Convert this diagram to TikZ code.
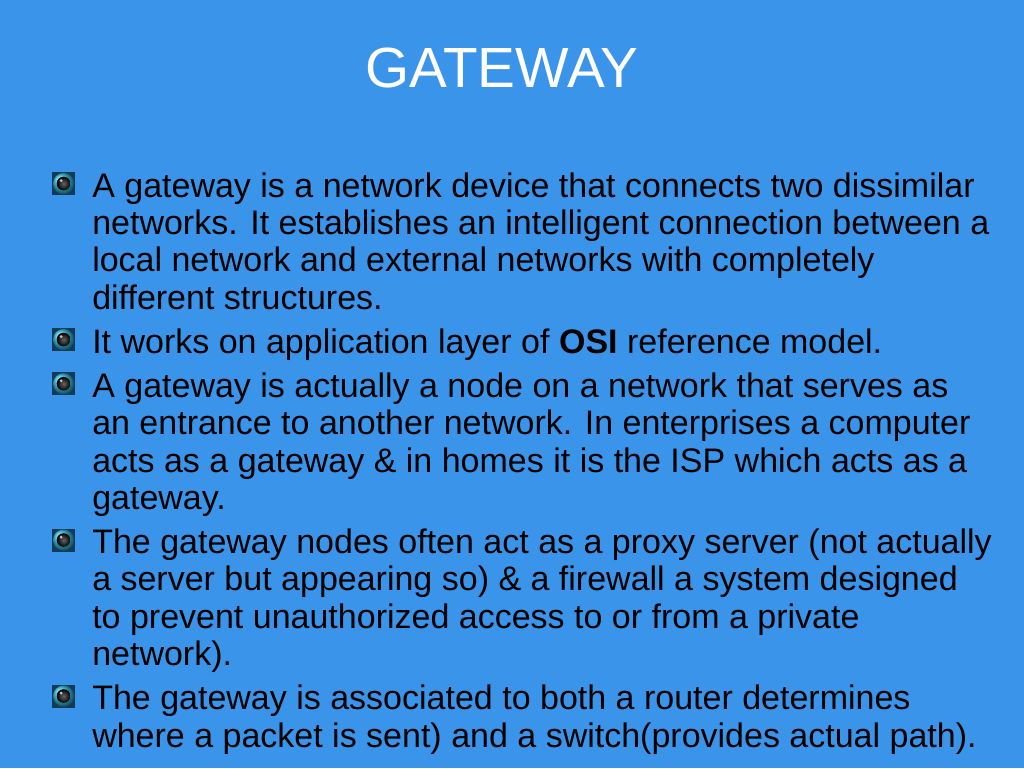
\documentclass[tikz,border=0pt]{standalone}
\usepackage{fontspec}
\setmainfont{Liberation Sans}
\definecolor{bg}{RGB}{58,149,234}
\definecolor{bulletsq}{RGB}{16,60,88}
\definecolor{ringcyan}{RGB}{60,200,235}
\begin{document}
\begin{tikzpicture}[x=0.75pt,y=-0.75pt,
  line/.style={anchor=base west,inner sep=0pt,font=\fontsize{25.5pt}{28pt}\selectfont,text=black}]
\fill[bg] (0,0) rectangle (1024,768);
\useasboundingbox (0,0) rectangle (1024,768);
% title
\node[anchor=base,inner sep=0pt,font=\fontsize{42.5pt}{44pt}\selectfont,text=white] (title) at (502,87) {GATEWAY};
% bullets
\foreach \yy/\nm in {183.5/m1,339.5/m2,383.7/m3,540/m4,696/m5}{
  \fill[bulletsq] (52,\yy-11.5) rectangle (75,\yy+11.5);
  \shade[ball color=ringcyan] (63.5,\yy) circle (10.5);
  \shade[inner color=black!60,outer color=black] (63.5,\yy) circle (6.8);
  \fill[white,opacity=0.7] (61.2,\yy-2.9) circle (1.6);
  \coordinate (\nm) at (63.5,\yy);
}
% paragraph 1
\node[line] (p1a) at (92,197) {A gateway is a network device that connects two dissimilar};
\node[line] (p1b) at (92,234.4) {networks. It establishes an intelligent connection between a};
\node[line] (p1c) at (92,271.8) {local network and external networks with completely};
\node[line] (p1d) at (92,309.2) {different structures.};
% paragraph 2
\node[line] (p2a) at (92,353) {It works on application layer of \textbf{OSI} reference model.};
% paragraph 3
\node[line] (p3a) at (92,397.2) {A gateway is actually a node on a network that serves as};
\node[line] (p3b) at (92,434.6) {an entrance to another network. In enterprises a computer};
\node[line] (p3c) at (92,472) {acts as a gateway \& in homes it is the ISP which acts as a};
\node[line] (p3d) at (92,509.4) {gateway.};
% paragraph 4
\node[line] (p4a) at (92,553.4) {The gateway nodes often act as a proxy server (not actually};
\node[line] (p4b) at (92,590.8) {a server but appearing so) \& a firewall a system designed};
\node[line] (p4c) at (92,628.2) {to prevent unauthorized access to or from a private};
\node[line] (p4d) at (92,665.6) {network).};
% paragraph 5
\node[line] (p5a) at (92,709.6) {The gateway is associated to both a router determines};
\node[line] (p5b) at (92,747) {where a packet is sent) and a switch(provides actual path).};
\end{tikzpicture}
\end{document}
